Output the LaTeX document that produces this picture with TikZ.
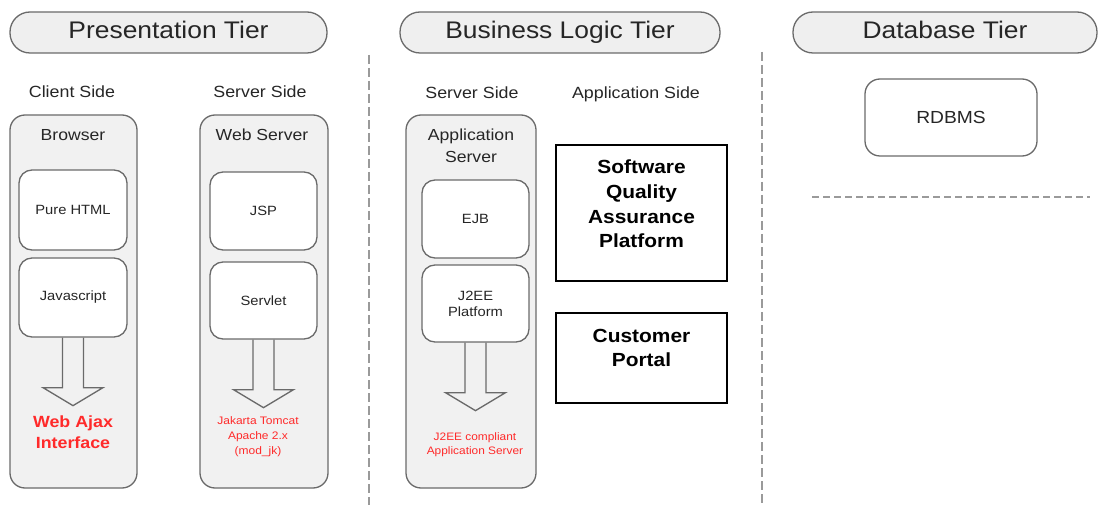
\documentclass[tikz,border=0pt]{standalone}
\usepackage{fontspec}
\setmainfont{Liberation Sans}[FakeStretch=1.1]
\usetikzlibrary{calc}
\definecolor{pillfill}{HTML}{EFEFEF}
\definecolor{outerfill}{HTML}{F1F1F1}
\definecolor{boxline}{HTML}{6A6A6A}
\definecolor{txtgray}{HTML}{262626}
\definecolor{redtxt}{HTML}{FF2A2A}
\definecolor{dashgray}{HTML}{9A9A9A}
\newcommand\fsz[2]{\fontsize{#1}{#2}\selectfont}
\tikzset{
  pill/.style={draw=boxline, line width=1.3pt, fill=pillfill, rounded corners=20pt, minimum height=41pt, inner sep=0pt, text=txtgray, font=\fsz{24}{28}, text height=17pt, text depth=4pt},
  sidelabel/.style={text=txtgray, font=\fsz{16.2}{19}, inner sep=0pt, text height=12pt, text depth=3pt},
  outerbox/.style={draw=boxline, line width=1.3pt, fill=outerfill, rounded corners=15pt, minimum height=373pt, inner sep=0pt},
  boxtitle/.style={text=txtgray, font=\fsz{16}{22}, align=center, inner sep=0pt},
  innerbox/.style={draw=boxline, line width=1.3pt, fill=white, rounded corners=13pt, minimum width=107pt, inner sep=0pt, text=txtgray, font=\fsz{13.4}{16}, align=center},
  redlbl/.style={text=redtxt, align=center, inner sep=0pt},
  blackbox/.style={draw=black, line width=2.4pt, minimum width=171pt, inner sep=0pt},
  blacktext/.style={font=\bfseries\fsz{19}{24.6}, align=center, inner sep=0pt},
  barrow/.style={draw=boxline, line width=1.3pt, line join=miter},
  sep/.style={draw=dashgray, line width=1.6pt, dash pattern=on 9pt off 4pt},
}
\newcommand\blockarrow[1]{%
  \draw[barrow] ($(#1.south)+(-10.5,0)$) -- ++(0,50) -- ++(-19.5,0) -- ($(#1.south)+(0,68)$)
     -- ($(#1.south)+(30,50)$) -- ++(-19.5,0) -- ++(0,-50);}
\begin{document}
\begin{tikzpicture}[x=1pt,y=-1pt]
\useasboundingbox (0,0) rectangle (1098,505);
% separators
\draw[sep] (369,55) -- (369,505);
\draw[sep] (762,52) -- (762,505);
\draw[sep, line width=1.3pt, dash pattern=on 7pt off 4pt] (812,197) -- (1090,197);
% headers
\node[pill, minimum width=317pt] (hp) at (168.5,32.5) {Presentation Tier};
\node[pill, minimum width=320pt] (hb) at (560,32.5) {Business Logic Tier};
\node[pill, minimum width=304pt] (hd) at (945,32.5) {Database Tier};
% side labels
\node[sidelabel] (cs) at (72,93) {Client Side};
\node[sidelabel] (ss) at (260,93) {Server Side};
\node[sidelabel] (bs) at (472,94) {Server Side};
\node[sidelabel] (as) at (636,94) {Application Side};
% browser column
\node[outerbox, minimum width=127pt] (browser) at (73.5,301.5) {};
\node[boxtitle] (browsert) at (73,135) {Browser};
\node[innerbox, minimum width=108pt, minimum height=80pt] (html) at (73,210) {Pure HTML};
\node[innerbox, minimum width=108pt, minimum height=79pt] (js) at (73,297.5) {Javascript};
\blockarrow{js}
\node[redlbl, font=\bfseries\fsz{16.2}{21}] (ajax) at (73,432) {Web Ajax\\Interface};
% web server column
\node[outerbox, minimum width=128pt] (web) at (264,301.5) {};
\node[boxtitle] (webt) at (262,135) {Web Server};
\node[innerbox, minimum height=78pt] (jsp) at (263.5,211) {JSP};
\node[innerbox, minimum height=77pt] (servlet) at (263.5,300.5) {Servlet};
\blockarrow{servlet}
\node[redlbl, font=\fsz{10.9}{15}] (tomcat) at (258,437) {Jakarta Tomcat\\Apache 2.x\\(mod\_jk)};
% application server column
\node[outerbox, minimum width=130pt] (app) at (471,301.5) {};
\node[boxtitle] (appt) at (471,146) {Application\\Server};
\node[innerbox, minimum height=78pt] (ejb) at (475.5,219) {EJB};
\node[innerbox, minimum height=77pt] (j2ee) at (475.5,303.5) {J2EE\\Platform};
\blockarrow{j2ee}
\node[redlbl, font=\fsz{10.8}{14}] (j2eec) at (475,445) {J2EE compliant\\Application Server};
% application side
\node[blackbox, minimum height=136pt] (sqa) at (641.5,213) {};
\node[blacktext] (sqat) at (641.5,204) {Software\\Quality\\Assurance\\Platform};
\node[blackbox, minimum height=90pt] (cp) at (641.5,358) {};
\node[blacktext] (cpt) at (641.5,348) {Customer\\Portal};
% database
\node[innerbox, rounded corners=15pt, minimum width=172pt, minimum height=77pt, font=\fsz{17.5}{20}] (rdbms) at (951,117.5) {RDBMS};
\end{tikzpicture}
\end{document}
